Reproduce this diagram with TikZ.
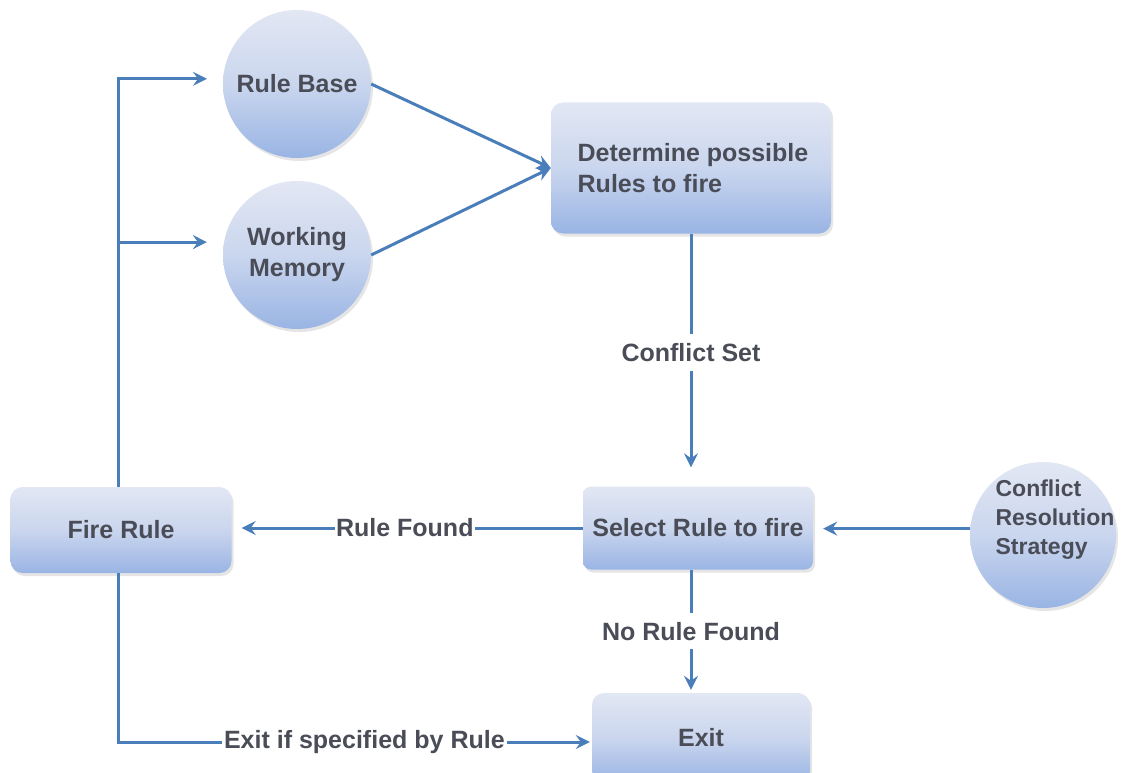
\documentclass[tikz,border=0pt]{standalone}
\usepackage{fontspec}
\setmainfont{Liberation Sans}
\usetikzlibrary{arrows.meta,shadows}
\definecolor{linec}{HTML}{4A7EBB}
\definecolor{txt}{HTML}{4A4D57}
\definecolor{topc}{HTML}{E2E7F3}
\definecolor{midc}{HTML}{CAD6EE}
\definecolor{botc}{HTML}{99B4E4}
\begin{document}
\begin{tikzpicture}[x=1pt,y=-1pt,
  every node/.style={font=\fontsize{25}{31}\selectfont\bfseries, text=txt},
  shadowed/.style={drop shadow={opacity=0.2,shadow xshift=2pt,shadow yshift=-3pt}},
  box/.style={rectangle, rounded corners=12pt, top color=topc, bottom color=botc, middle color=midc, draw=none, shadowed, inner sep=0pt},
  circ/.style={circle, top color=topc, bottom color=botc, middle color=midc, draw=none, shadowed, minimum size=148pt, inner sep=0pt},
  conn/.style={draw=linec, line width=3pt, -{Stealth[length=14pt,width=14pt,inset=5pt]}},
  lab/.style={fill=white, inner xsep=3pt, inner ysep=9pt}
]
\fill[white] (0,0) rectangle (1124,773);
\useasboundingbox (0,0) rectangle (1124,773);

\coordinate (lt) at (118,0);

\node[circ] (rb) at (297,84) {Rule Base};
\node[circ, align=center] (wm) at (297,255) {Working\\Memory};
\node[box, minimum width=280pt, minimum height=131pt, align=left] (det) at (691,168) {\hspace*{4pt}Determine possible\\\hspace*{4pt}Rules to fire};
\node[box, rounded corners=8pt, minimum width=230pt, minimum height=83pt] (sel) at (698,528) {Select Rule to fire};
\node[box, minimum width=221pt, minimum height=86pt] (fire) at (121,530) {Fire Rule};
\node[box, minimum width=218pt, minimum height=90pt] (exit) at (701,738) {Exit};
\node[circ, minimum size=146pt] (crs) at (1043,535) {};
\node[align=left, font=\fontsize{23}{29}\selectfont\bfseries] (crstext) at (1055,520) {Conflict\\Resolution\\Strategy};

% circles to determine box
\draw[conn] (rb.east) -- (det.west);
\draw[conn] (wm.east) -- (det.west);

% left feedback loop
\draw[conn, shorten >=16pt] (fire.north -| lt) |- (rb.176);
\draw[conn, shorten >=17pt] (wm.170 -| lt) -- (wm.170);

% conflict set
\draw[conn, shorten >=19pt] (det.south) -- node[lab, pos=0.47] {Conflict Set} (det.south |- sel.north);

% rule found
\draw[conn, shorten >=10pt] (sel.west) -- node[lab, pos=0.507, inner xsep=1pt] {Rule Found} (sel.west -| fire.east);

% conflict resolution strategy
\draw[conn, shorten >=10pt] (crs.175) -- (crs.175 -| sel.east);

% no rule found
\draw[conn, shorten >=3pt] (det.south |- sel.south) -- node[lab, pos=0.5] {No Rule Found} (det.south |- exit.north);

% exit if specified
\draw[conn, shorten >=2pt] (fire.south -| lt) |- node[lab, pos=0.76, inner xsep=2pt] {Exit if specified by Rule} ([yshift=-4pt]exit.west);
\end{tikzpicture}
\end{document}
